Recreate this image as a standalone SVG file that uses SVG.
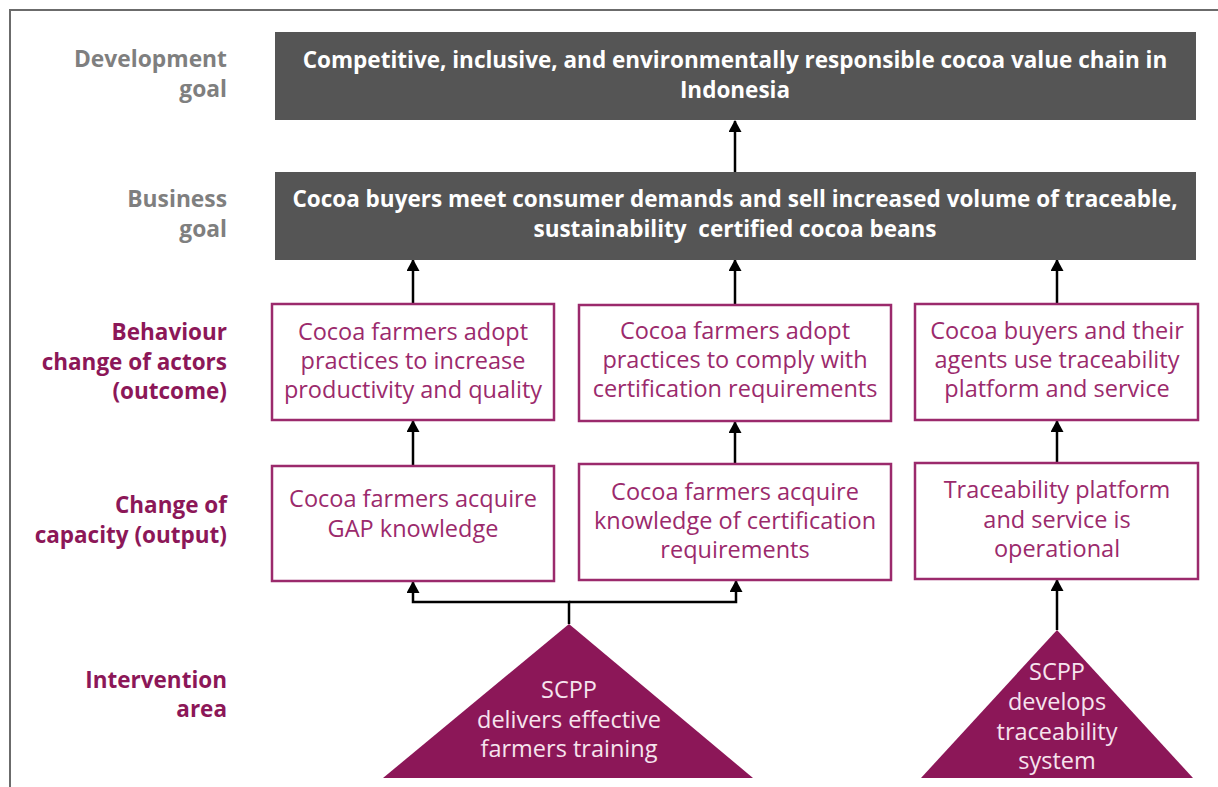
<svg xmlns="http://www.w3.org/2000/svg" width="1218" height="787" viewBox="0 0 1218 787">
<defs>
<marker id="ah" viewBox="0 0 12 13" refX="11" refY="6.5" markerWidth="12" markerHeight="13" markerUnits="userSpaceOnUse" orient="auto">
<path d="M0,0 L12,6.5 L0,13 Z" fill="#000"/>
</marker>
<style>
.frame{fill:none;stroke:#6b6b6b;stroke-width:2}
.dark{fill:#555555}
.box{fill:#ffffff;stroke:#9b2a6c;stroke-width:2.5}
.tri{fill:#8c1758}
.conn{fill:none;stroke:#000;stroke-width:2.5}
text{font-family:"Open Sans","Noto Sans","Liberation Sans",sans-serif}
.gl{font-size:22.8px;font-weight:bold;fill:#7f7f7f;text-anchor:end}
.ml{font-size:22.5px;font-weight:bold;fill:#8c1758;text-anchor:end}
.dt{font-size:22.5px;font-weight:bold;fill:#ffffff;text-anchor:middle}
.bt{font-size:23.5px;fill:#9b2a6c;text-anchor:middle}
.tt{font-size:23.5px;fill:#f6e4ee;text-anchor:middle}
</style>
</defs>
<rect width="1218" height="787" fill="#ffffff"/>
<path class="frame" d="M10,787 L10,10 L1218,10"/>

<g id="labels">
<text class="gl" x="227" y="67">Development</text>
<text class="gl" x="227" y="97">goal</text>
<text class="gl" x="227" y="207">Business</text>
<text class="gl" x="227" y="237">goal</text>
<text class="ml" x="227" y="340">Behaviour</text>
<text class="ml" x="227" y="370">change of actors</text>
<text class="ml" x="227" y="399">(outcome)</text>
<text class="ml" x="227" y="513">Change of</text>
<text class="ml" x="227" y="543">capacity (output)</text>
<text class="ml" x="227" y="688">Intervention</text>
<text class="ml" x="227" y="717">area</text>
</g>

<g id="connectors">
<line class="conn" x1="735" y1="172" x2="735" y2="121" marker-end="url(#ah)"/>
<line class="conn" x1="413" y1="304" x2="413" y2="260" marker-end="url(#ah)"/>
<line class="conn" x1="735" y1="305" x2="735" y2="260" marker-end="url(#ah)"/>
<line class="conn" x1="1057" y1="304" x2="1057" y2="260" marker-end="url(#ah)"/>
<line class="conn" x1="413" y1="466" x2="413" y2="421" marker-end="url(#ah)"/>
<line class="conn" x1="735" y1="464" x2="735" y2="422" marker-end="url(#ah)"/>
<line class="conn" x1="1057" y1="463" x2="1057" y2="421" marker-end="url(#ah)"/>
<path class="conn" d="M569,624 L569,602 L413,602 L413,582" marker-end="url(#ah)"/>
<path class="conn" d="M569,602 L736,602 L736,581" marker-end="url(#ah)"/>
<line class="conn" x1="1057" y1="630" x2="1057" y2="580" marker-end="url(#ah)"/>
</g>

<g id="dev-goal">
<rect class="dark" x="275" y="32" width="921" height="88"/>
<text class="dt" x="735" y="68">Competitive, inclusive, and environmentally responsible cocoa value chain in</text>
<text class="dt" x="735" y="98">Indonesia</text>
</g>

<g id="business-goal">
<rect class="dark" x="275" y="172" width="921" height="88"/>
<text class="dt" x="735" y="207">Cocoa buyers meet consumer demands and sell increased volume of traceable,</text>
<text class="dt" x="735" y="237">sustainability&#160; certified cocoa beans</text>
</g>

<g id="outcome-1">
<rect class="box" x="272" y="304" width="282" height="116"/>
<text class="bt" x="413" y="340">Cocoa farmers adopt</text>
<text class="bt" x="413" y="369">practices to increase</text>
<text class="bt" x="413" y="398">productivity and quality</text>
</g>
<g id="outcome-2">
<rect class="box" x="579" y="305" width="312" height="116"/>
<text class="bt" x="735" y="339">Cocoa farmers adopt</text>
<text class="bt" x="735" y="368">practices to comply with</text>
<text class="bt" x="735" y="397">certification requirements</text>
</g>
<g id="outcome-3">
<rect class="box" x="915" y="304" width="283" height="116"/>
<text class="bt" x="1057" y="339">Cocoa buyers and their</text>
<text class="bt" x="1057" y="368">agents use traceability</text>
<text class="bt" x="1057" y="397">platform and service</text>
</g>

<g id="output-1">
<rect class="box" x="272" y="466" width="282" height="115"/>
<text class="bt" x="413" y="507">Cocoa farmers acquire</text>
<text class="bt" x="413" y="537">GAP knowledge</text>
</g>
<g id="output-2">
<rect class="box" x="579" y="464" width="312" height="116"/>
<text class="bt" x="735" y="500">Cocoa farmers acquire</text>
<text class="bt" x="735" y="529">knowledge of certification</text>
<text class="bt" x="735" y="558">requirements</text>
</g>
<g id="output-3">
<rect class="box" x="915" y="463" width="283" height="116"/>
<text class="bt" x="1057" y="498">Traceability platform</text>
<text class="bt" x="1057" y="528">and service is</text>
<text class="bt" x="1057" y="557">operational</text>
</g>

<g id="intervention-1">
<polygon class="tri" points="569,624 753,778 383,778"/>
<text class="tt" x="569" y="698">SCPP</text>
<text class="tt" x="569" y="728">delivers effective</text>
<text class="tt" x="569" y="757">farmers training</text>
</g>
<g id="intervention-2">
<polygon class="tri" points="1057,630 1193,778 921,778"/>
<text class="tt" x="1057" y="680">SCPP</text>
<text class="tt" x="1057" y="710">develops</text>
<text class="tt" x="1057" y="740">traceability</text>
<text class="tt" x="1057" y="769">system</text>
</g>
</svg>
